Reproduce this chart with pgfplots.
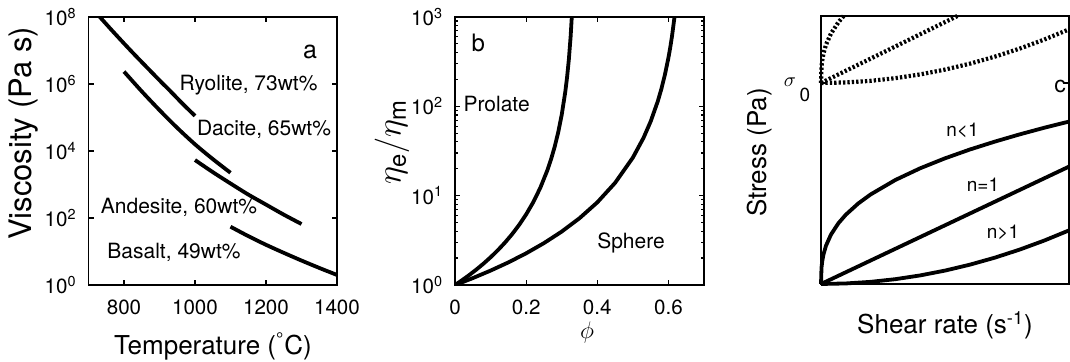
\documentclass[border=0pt]{standalone}
\usepackage{fontspec}
\setmainfont{TeX Gyre Heros}
\usepackage{pgfplots}
\pgfplotsset{compat=1.18}
\begin{document}
\begin{tikzpicture}[x=1pt,y=1pt]
\useasboundingbox (0,0) rectangle (535,181);
\pgfplotsset{
  every axis/.append style={
    scale only axis,
    axis line style={line width=0.8pt},
    every tick/.style={line width=0.6pt, black},
    major tick length=2.5pt, minor tick length=1.3pt, tick align=inside,
    xtick pos=both, ytick pos=both,
    ticklabel style={font=\fontsize{10.3}{12}\selectfont},
    xticklabel style={yshift=-4pt},
    yticklabel style={xshift=-2.4pt},
  },
  curve/.style={black, line width=1.9pt, line join=round},
  dots/.style={black, line width=2.1pt, dash pattern=on 1.15pt off 1.05pt},
}
% ---------------- panel a ----------------
\begin{axis}[at={(44.25pt,38.5pt)}, anchor=south west, width=124.25pt, height=134pt,
  xmin=700, xmax=1400, ymode=log, ymin=1, ymax=1e8,
  xtick={800,1000,1200,1400}, xticklabels={800,1000,1200,1400},
  ytick={1,1e2,1e4,1e6,1e8},
  yticklabels={10\textsuperscript{0},10\textsuperscript{2},10\textsuperscript{4},10\textsuperscript{6},10\textsuperscript{8}},
  yminorticks=false]
\addplot[curve, smooth] coordinates {(732,1e8) (766,3.981e7) (800,1.622e7) (833,6.918e6) (866,3.020e6) (900,1.288e6) (933,5.754e5) (966,2.512e5) (1000,1.122e5)};
\addplot[curve, smooth] coordinates {(800,2.344e6) (850,6.026e5) (900,1.660e5) (950,4.898e4) (1000,1.585e4) (1050,5.754e3) (1100,2.239e3)};
\addplot[curve, smooth] coordinates {(1000,5.370e3) (1050,2.344e3) (1100,1.072e3) (1150,501.2) (1200,251.2) (1250,125.9) (1300,66.07)};
\addplot[curve, smooth] coordinates {(1100,54.95) (1150,28.84) (1200,15.85) (1250,9.120) (1300,5.370) (1350,3.236) (1400,1.995)};
\end{axis}
% ---------------- panel b ----------------
\begin{axis}[at={(227.5pt,38.5pt)}, anchor=south west, width=124.5pt, height=134pt,
  xmin=0, xmax=0.7, ymode=log, ymin=1, ymax=1000,
  xtick={0,0.2,0.4,0.6}, xticklabels={0,0.2,0.4,0.6},
  ytick={1,10,100,1000},
  yticklabels={10\textsuperscript{0},10\textsuperscript{1},10\textsuperscript{2},10\textsuperscript{3}},
  yminorticks=true, xminorticks=false]
\addplot[curve] coordinates {(0,1) (0.02,1.132) (0.04,1.292) (0.06,1.489) (0.08,1.733) (0.10,2.042) (0.12,2.441) (0.14,2.968) (0.16,3.683) (0.18,4.690) (0.20,6.166) (0.22,8.457) (0.24,12.29) (0.26,19.42) (0.27,25.53) (0.28,35.03) (0.29,50.87) (0.30,80.4) (0.31,145.0) (0.315,210.8) (0.32,333.0) (0.325,600.6) (0.3283,1000)};
\addplot[curve] coordinates {(0,1) (0.02,1.072) (0.05,1.194) (0.10,1.449) (0.15,1.790) (0.20,2.263) (0.25,2.942) (0.30,3.962) (0.35,5.590) (0.40,8.411) (0.45,13.90) (0.50,26.67) (0.53,44.42) (0.55,67.61) (0.57,113.7) (0.58,155.8) (0.59,225.0) (0.60,349.9) (0.605,453.3) (0.61,608.2) (0.6171,1000)};
\end{axis}
% ---------------- panel c ----------------
\begin{axis}[at={(410.5pt,39pt)}, anchor=south west, width=124pt, height=134pt,
  xmin=0, xmax=1, ymin=0, ymax=1, clip=false,
  xtick=\empty, ytick={0.75}, yticklabels={}]
\addplot[dots] coordinates {(0,0.75) (0.002,0.8108) (0.005,0.8353) (0.01,0.8603) (0.02,0.8925) (0.04,0.9342) (0.07,0.9765) (0.0913,1.0)};
\addplot[dots] coordinates {(0,0.75) (0.55,1.0)};
\addplot[dots] coordinates {(0,0.75) (0.1,0.752) (0.2,0.758) (0.3,0.768) (0.4,0.782) (0.5,0.80) (0.6,0.822) (0.7,0.848) (0.8,0.878) (0.9,0.912) (1.0,0.95)};
\addplot[curve] coordinates {(0,0) (0.002,0.0608) (0.005,0.0853) (0.01,0.1103) (0.02,0.1425) (0.04,0.1842) (0.07,0.2265) (0.1,0.2585) (0.15,0.3003) (0.2,0.3341) (0.3,0.3882) (0.4,0.4318) (0.5,0.4689) (0.6,0.5017) (0.7,0.5310) (0.8,0.5580) (0.9,0.5829) (1.0,0.606)};
\addplot[curve] coordinates {(0,0) (1,0.438)};
\addplot[curve] coordinates {(0,0) (0.1,0.002) (0.2,0.008) (0.3,0.018) (0.4,0.032) (0.5,0.05) (0.6,0.072) (0.7,0.098) (0.8,0.128) (0.9,0.162) (1,0.2)};
\end{axis}
% ---------------- labels ----------------
\begin{scope}[every node/.style={inner sep=0pt}]
\node[rotate=90, font=\fontsize{15.5}{18}\selectfont] at (12,114.25) {Viscosity (Pa s)};
\node[font=\fontsize{13}{16}\selectfont] at (106.5,7.8) {Temperature (\textsuperscript{\textdegree}C)};
\node[font=\fontsize{12.5}{15}\selectfont, anchor=mid] at (155,154.5) {a};
\node[font=\fontsize{10.5}{12}\selectfont, anchor=mid] at (124.25,138.5) {Ryolite, 73wt\%};
\node[font=\fontsize{10.5}{12}\selectfont, anchor=mid] at (132,116) {Dacite, 65wt\%};
\node[font=\fontsize{10.5}{12}\selectfont, anchor=mid] at (89.5,77) {Andesite, 60wt\%};
\node[font=\fontsize{10.5}{12}\selectfont, anchor=mid] at (87,54.5) {Basalt, 49wt\%};
%
\node[rotate=90, font=\fontsize{17}{20}\selectfont] at (196,110) {$\eta_{\mathrm{e}}/\eta_{\mathrm{m}}$};
\node[font=\fontsize{13}{16}\selectfont] at (293.5,14.5) {$\phi$};
\node[font=\fontsize{12}{14}\selectfont, anchor=mid] at (239.2,157.7) {b};
\node[font=\fontsize{10.5}{12}\selectfont, anchor=mid] at (248.3,127.7) {Prolate};
\node[font=\fontsize{10.5}{12}\selectfont, anchor=mid] at (315.5,59.5) {Sphere};
%
\node[rotate=90, font=\fontsize{13}{16}\selectfont] at (380,104.75) {Stress (Pa)};
\node[font=\fontsize{13}{16}\selectfont] at (472.5,18.5) {Shear rate (s\textsuperscript{-1})};
\node[font=\fontsize{10}{12}\selectfont] at (395,140) {$\sigma$};
\node[font=\fontsize{9.5}{12}\selectfont] at (402.5,133.5) {0};
\node[font=\fontsize{11.5}{14}\selectfont, anchor=mid] at (530,137.4) {c};
\node[font=\fontsize{9.5}{12}\selectfont, anchor=mid] at (481.25,115.2) {n<1};
\node[font=\fontsize{9.5}{12}\selectfont, anchor=mid] at (491.5,87.7) {n=1};
\node[font=\fontsize{9.5}{12}\selectfont, anchor=mid] at (501.5,64.4) {n>1};
\end{scope}
\end{tikzpicture}
\end{document}
